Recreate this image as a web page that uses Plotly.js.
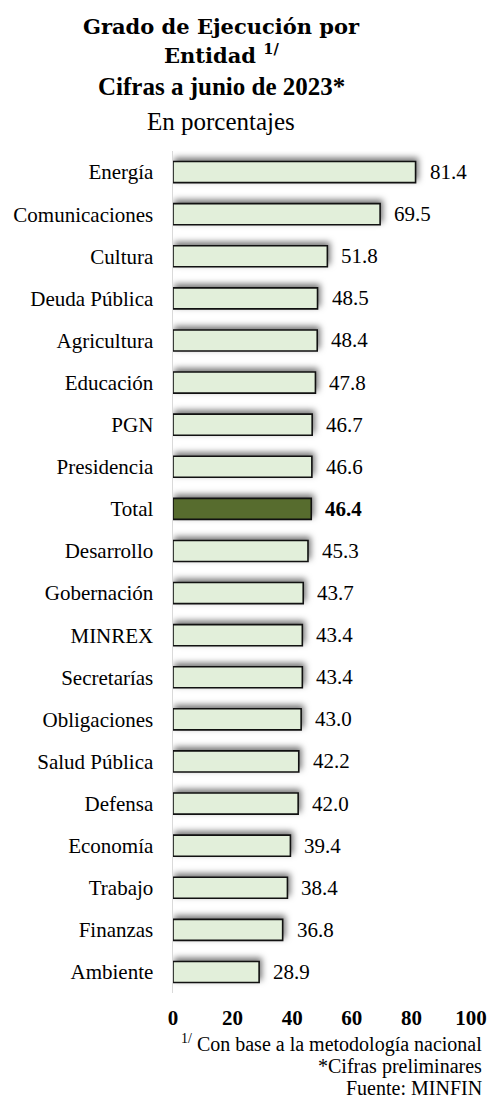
<!DOCTYPE html>
<html>
<head>
<meta charset="utf-8">
<script src="https://cdn.plot.ly/plotly-3.0.1.min.js"></script>
<style>
html,body{margin:0;padding:0;background:#fff;}
#chart{width:489px;height:1099px;}
.js-plotly-plot .barlayer .point path{filter:drop-shadow(2px -3px 3px rgba(0,0,0,0.55));}
</style>
</head>
<body>
<div id="chart"></div>
<script>
const categories = ["Energía","Comunicaciones","Cultura","Deuda Pública","Agricultura","Educación","PGN","Presidencia","Total","Desarrollo","Gobernación","MINREX","Secretarías","Obligaciones","Salud Pública","Defensa","Economía","Trabajo","Finanzas","Ambiente"];
const values = [81.4,69.5,51.8,48.5,48.4,47.8,46.7,46.6,46.4,45.3,43.7,43.4,43.4,43.0,42.2,42.0,39.4,38.4,36.8,28.9];
const highlight = "Total";
const xTicks = [0,20,40,60,80,100];
const titleLines = ["Grado de Ejecución por","Entidad <sup>1/</sup>","Cifras a junio de 2023*","En porcentajes"];
const footerLines = ["<sup>1/</sup> Con base a la metodología nacional","*Cifras preliminares","Fuente: MINFIN"];

const W = 489, H = 1099;
const M = {l:173, r:18, t:151, b:106};
const plotH = H - M.t - M.b, plotW = W - M.l - M.r;
const py = p => (H - M.b - p) / plotH;   // pixel row -> paper y
const px = p => (p - M.l) / plotW;       // pixel col -> paper x

const serif = "Liberation Serif";
const fillColors = categories.map(c => c === highlight ? "#576c2e" : "#e2efda");

const trace = {
  type: "bar",
  orientation: "h",
  y: categories,
  x: values,
  width: 0.5,
  marker: {color: fillColors, line: {color: "#111", width: 1.6}},
  hoverinfo: "skip"
};

const annotations = [];
values.forEach((v, i) => {
  const bold = categories[i] === highlight;
  annotations.push({
    x: v, y: categories[i], xref: "x", yref: "y",
    text: bold ? "<b>" + v.toFixed(1) + "</b>" : v.toFixed(1),
    showarrow: false, xanchor: "left", yanchor: "middle", xshift: 12,
    font: {family: serif, size: 21, color: "#000"}
  });
});
const titleY = [27, 54, 87, 121];
const titleFonts = [
  {family: "DejaVu Serif", size: 21, bold: true},
  {family: "DejaVu Serif", size: 21, bold: true},
  {family: serif, size: 25, bold: true},
  {family: serif, size: 25, bold: false}
];
titleLines.forEach((t, i) => {
  const f = titleFonts[i];
  annotations.push({
    x: px(221), y: py(titleY[i]), xref: "paper", yref: "paper",
    text: f.bold ? "<b>" + t + "</b>" : t,
    showarrow: false, xanchor: "center", yanchor: "middle",
    font: {family: f.family, size: f.size, color: "#000"}
  });
});
const footY = [1043, 1066, 1088];
footerLines.forEach((t, i) => {
  annotations.push({
    x: px(484), y: py(footY[i]), xref: "paper", yref: "paper",
    text: t, showarrow: false, xanchor: "right", yanchor: "middle",
    font: {family: serif, size: 20, color: "#000"}
  });
});

const layout = {
  width: W, height: H,
  margin: M,
  font: {family: serif, color: "#000"},
  paper_bgcolor: "#fff", plot_bgcolor: "#fff",
  showlegend: false,
  xaxis: {
    range: [0, 100], tickvals: xTicks, ticktext: xTicks.map(v => "<b>" + v + "</b>"),
    showgrid: false, zeroline: false, showline: false, ticks: "",
    ticklabelstandoff: 10,
    tickfont: {family: serif, size: 21, color: "#000"},
    fixedrange: true
  },
  yaxis: {
    type: "category", categoryorder: "array", categoryarray: categories,
    autorange: "reversed",
    showgrid: false, zeroline: false,
    showline: true, linecolor: "#d9d9d9", linewidth: 1.5,
    ticks: "", ticklabelstandoff: 14,
    tickfont: {family: serif, size: 21, color: "#000"},
    fixedrange: true
  },
  annotations: annotations
};

Plotly.newPlot("chart", [trace], layout, {displayModeBar: false, staticPlot: true});
</script>
</body>
</html>
